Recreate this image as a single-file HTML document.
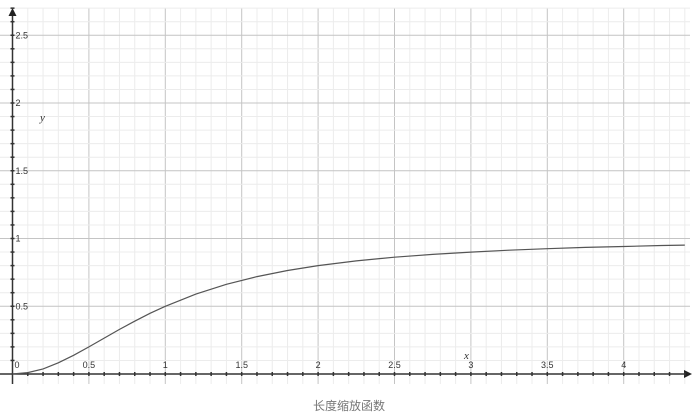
<!DOCTYPE html>
<html><head><meta charset="utf-8"><style>
html,body{margin:0;padding:0;background:#fff;width:698px;height:416px;overflow:hidden}
svg{display:block}
</style></head><body>
<svg id="chart" width="698" height="416" xmlns="http://www.w3.org/2000/svg"></svg>
<script>
const xTicks=[0.5,1,1.5,2,2.5,3,3.5,4];
const xTickLabels=["0.5","1","1.5","2","2.5","3","3.5","4"];
const yTicks=[0.5,1,1.5,2,2.5];
const yTickLabels=["0.5","1","1.5","2","2.5"];
const curveX=[0,0.1,0.2,0.3,0.4,0.5,0.6,0.7,0.8,0.9,1,1.2,1.4,1.6,1.8,2,2.25,2.5,2.75,3,3.25,3.5,3.75,4,4.25,4.4];
const curveY=[0,0.01,0.038,0.083,0.138,0.2,0.265,0.329,0.39,0.448,0.5,0.59,0.662,0.719,0.764,0.8,0.835,0.862,0.883,0.9,0.914,0.925,0.934,0.941,0.948,0.951];
const NS="http://www.w3.org/2000/svg";
const svg=document.getElementById('chart');
const X0=12.5,Y0=374,SX=152.8,SY=135.5;
const xs=v=>X0+v*SX, ys=v=>Y0-v*SY;
function mk(t,a){const e=document.createElementNS(NS,t);for(const k in a)e.setAttribute(k,a[k]);svg.appendChild(e);return e;}
// grid
for(let i=-1;i<=45;i++){const x=xs(i/10);if(x<0||x>690)continue;
 const l=mk('line',{x1:x,y1:8,x2:x,y2:384,stroke:i%5===0?'#c4c4c4':'#ececec','stroke-width':1});
 
 }
for(let j=0;j<=27;j++){const y=ys(j/10);if(y<8)continue;
 const l=mk('line',{x1:0,y1:y,x2:690,y2:y,stroke:j%5===0?'#c4c4c4':'#ececec','stroke-width':1});
 
 }
// axes
const xa=mk('line',{x1:0,y1:Y0,x2:686,y2:Y0,stroke:'#333','stroke-width':1.5});


const xar=mk('path',{d:`M692 ${Y0} L684 ${Y0-4} L684 ${Y0+4} Z`,fill:'#222'});


const ya=mk('line',{x1:X0,y1:14,x2:X0,y2:384,stroke:'#333','stroke-width':1.5});


const yar=mk('path',{d:`M${X0} 8 L${X0-4} 16 L${X0+4} 16 Z`,fill:'#222'});


// minor ticks
for(let i=1;i<=44;i++){const x=xs(i/10);
 const t=mk('line',{x1:x,y1:Y0-2,x2:x,y2:Y0+2,stroke:'#333','stroke-width':1.5});
 
 }
for(let j=1;j<=27;j++){const y=ys(j/10);
 const t=mk('line',{x1:X0-2,y1:y,x2:X0+2,y2:y,stroke:'#333','stroke-width':1.5});
 
 }
const st='font-family:"Liberation Sans",sans-serif;font-size:9px;fill:#333';
xTicks.forEach((v,i)=>{const t=mk('text',{x:xs(v),y:Y0-6,'text-anchor':'middle',style:st});t.textContent=xTickLabels[i];
 
 });
yTicks.forEach((v,i)=>{const t=mk('text',{x:X0+3,y:ys(v)+3,style:st});t.textContent=yTickLabels[i];
 
 });
const o=mk('text',{x:17,y:Y0-6,style:st,'text-anchor':'middle'});o.textContent='0';


const xl=mk('text',{x:464,y:359,style:'font-family:"Liberation Serif",serif;font-style:italic;font-size:11px;fill:#333'});xl.textContent='x';


const yl=mk('text',{x:40,y:121,style:'font-family:"Liberation Serif",serif;font-style:italic;font-size:11px;fill:#333'});yl.textContent='y';


// curve
let d='';curveX.forEach((v,i)=>{d+=(i?'L':'M')+xs(v).toFixed(1)+' '+ys(curveY[i]).toFixed(1)+' ';});
const c=mk('path',{d:d,fill:'none',stroke:'#555','stroke-width':1.2});


const cap=mk('text',{x:349,y:410,'text-anchor':'middle',style:'font-family:"Liberation Sans","Noto Sans CJK SC",sans-serif;font-size:12px;fill:#777'});
cap.textContent='长度缩放函数';


</script>
</body></html>
